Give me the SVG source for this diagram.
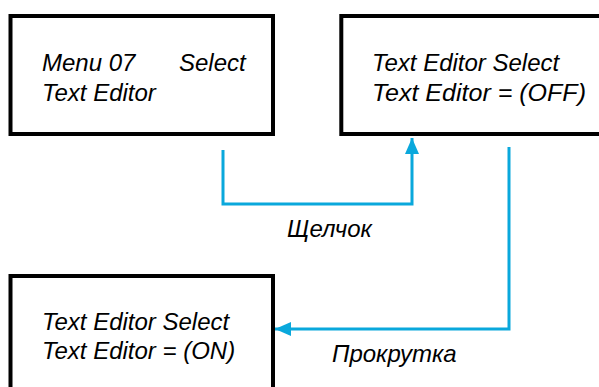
<svg xmlns="http://www.w3.org/2000/svg" width="599" height="387" viewBox="0 0 599 387">
<style>
.box{fill:#fff;stroke:#000;stroke-width:4}
.t{font-family:"Liberation Sans",Arial,sans-serif;font-style:italic;font-size:24px;fill:#000}
.c{fill:none;stroke:#0AA8DC;stroke-width:3}
</style>
<defs>
<marker id="ah" viewBox="0 0 16 14" refX="16" refY="7" markerWidth="16" markerHeight="14" markerUnits="userSpaceOnUse" orient="auto">
<path d="M0,0 L16,7 L0,14 Z" fill="#0AA8DC"/>
</marker>
</defs>
<rect width="599" height="387" fill="#fff"/>
<g id="node1">
<rect class="box" x="10.5" y="16" width="262.5" height="118"/>
<text class="t" x="42" y="71">Menu 07</text>
<text class="t" x="179" y="71">Select</text>
<text class="t" x="42" y="101">Text Editor</text>
</g>
<g id="node2">
<rect class="box" x="341.3" y="16" width="270" height="118"/>
<text class="t" x="372" y="71">Text Editor Select</text>
<text class="t" x="372" y="101" textLength="214" lengthAdjust="spacingAndGlyphs">Text Editor = (OFF)</text>
</g>
<g id="node3">
<rect class="box" x="10.5" y="276" width="262.5" height="130"/>
<text class="t" x="42" y="330">Text Editor Select</text>
<text class="t" x="42" y="359">Text Editor = (ON)</text>
</g>
<g id="connectors">
<path class="c" d="M223,150 V204 H412 V138" marker-end="url(#ah)"/>
<path class="c" d="M509,147 V329 H275" marker-end="url(#ah)"/>
<text class="t" x="287" y="237">Щелчок</text>
<text class="t" x="332" y="362">Прокрутка</text>
</g>
</svg>
